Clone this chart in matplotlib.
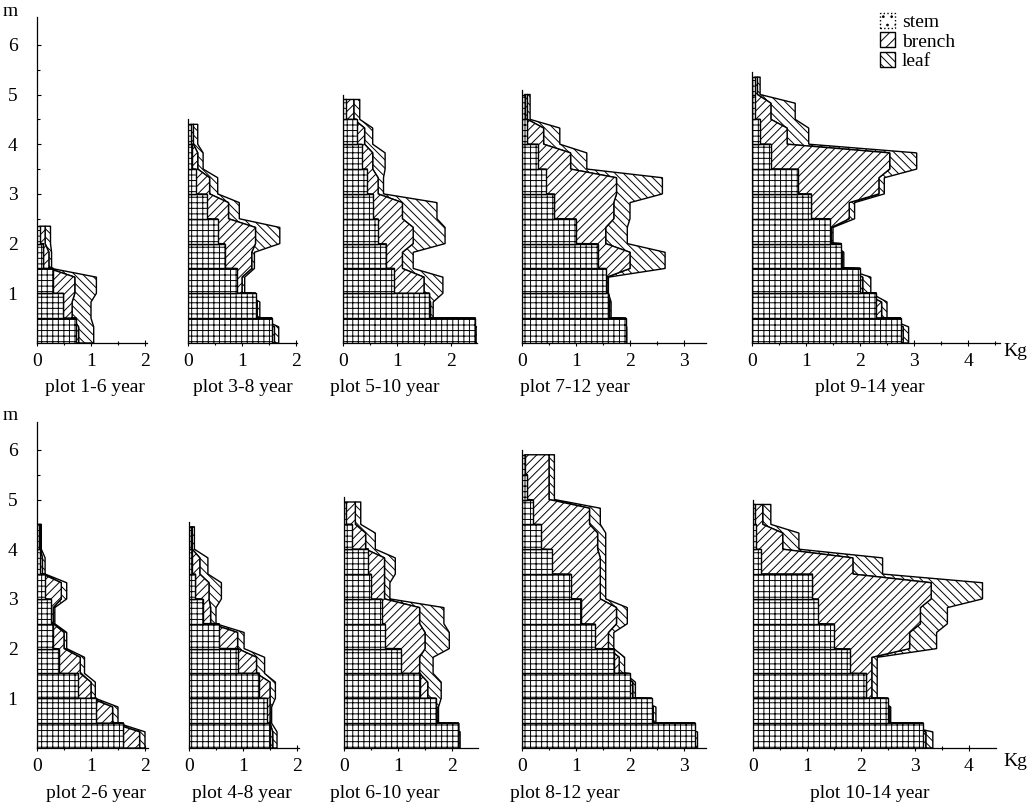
import numpy as np
import matplotlib
matplotlib.use("Agg")
import matplotlib.pyplot as plt
from matplotlib.patches import Patch

plt.rcParams['font.family'] = ['Liberation Serif', 'DejaVu Serif']
plt.rcParams['hatch.linewidth'] = 0.7

LAYER = 0.5  # m, thickness of each cut layer

# biomass per layer (kg), from ground upward
# top row
s_1_6 = [0.72, 0.49, 0.30, 0.12, 0.05]
b_1_6 = [0.05, 0.16, 0.40, 0.10, 0.10]
l_1_6 = [0.28, 0.35, 0.40, 0.05, 0.10]
top_1_6 = 2.35

s_3_8 = [1.55, 1.25, 0.90, 0.68, 0.55, 0.35, 0.15, 0.08, 0.05]
b_3_8 = [0.05, 0.03, 0.10, 0.50, 0.70, 0.40, 0.25, 0.10, 0.05]
l_3_8 = [0.08, 0.05, 0.05, 0.05, 0.45, 0.20, 0.15, 0.10, 0.08]
top_3_8 = 4.4

s_5_10 = [2.45, 1.60, 0.95, 0.80, 0.65, 0.55, 0.45, 0.35, 0.25, 0.05]
b_5_10 = [0.00, 0.02, 0.55, 0.30, 0.65, 0.55, 0.20, 0.20, 0.15, 0.15]
l_5_10 = [0.03, 0.05, 0.35, 0.20, 0.59, 0.64, 0.10, 0.23, 0.15, 0.11]
top_5_10 = 4.9

s_7_12 = [1.92, 1.60, 1.55, 1.40, 1.00, 0.60, 0.45, 0.30, 0.10, 0.05]
b_7_12 = [0.00, 0.02, 0.02, 0.60, 0.55, 1.10, 1.30, 0.60, 0.30, 0.05]
l_7_12 = [0.02, 0.03, 0.03, 0.65, 0.40, 0.30, 0.85, 0.30, 0.30, 0.05]
top_7_12 = 5.0

s_9_14 = [2.75, 2.30, 2.00, 1.65, 1.45, 1.10, 0.85, 0.35, 0.15, 0.05, 0.05]
b_9_14 = [0.05, 0.10, 0.05, 0.02, 0.02, 0.70, 1.50, 2.20, 0.50, 0.30, 0.05]
l_9_14 = [0.10, 0.10, 0.15, 0.03, 0.03, 0.10, 0.10, 0.50, 0.40, 0.45, 0.05]
top_9_14 = 5.35

# bottom row
s_2_6 = [1.60, 1.10, 0.75, 0.40, 0.30, 0.25, 0.15, 0.05, 0.03]
b_2_6 = [0.30, 0.30, 0.25, 0.40, 0.20, 0.05, 0.30, 0.05, 0.03]
l_2_6 = [0.10, 0.10, 0.08, 0.08, 0.05, 0.03, 0.10, 0.05, 0.02]
top_2_6 = 4.5

s_4_8 = [1.50, 1.45, 1.30, 0.90, 0.55, 0.25, 0.12, 0.05, 0.03]
b_4_8 = [0.05, 0.05, 0.20, 0.35, 0.35, 0.15, 0.25, 0.15, 0.03]
l_4_8 = [0.08, 0.03, 0.10, 0.15, 0.12, 0.10, 0.23, 0.15, 0.04]
top_4_8 = 4.45

s_6_10 = [2.12, 1.70, 1.40, 1.05, 0.75, 0.70, 0.50, 0.45, 0.15, 0.03]
b_6_10 = [0.00, 0.02, 0.15, 0.35, 0.75, 0.70, 0.25, 0.30, 0.25, 0.18]
l_6_10 = [0.03, 0.03, 0.25, 0.25, 0.45, 0.45, 0.10, 0.20, 0.18, 0.10]
top_6_10 = 4.95

s_8_12 = [3.20, 2.40, 2.00, 1.70, 1.35, 1.10, 0.90, 0.55, 0.35, 0.20, 0.10, 0.05]
b_8_12 = [0.00, 0.03, 0.05, 0.10, 0.25, 0.65, 0.55, 0.90, 1.05, 1.05, 0.40, 0.45]
l_8_12 = [0.05, 0.05, 0.05, 0.10, 0.10, 0.20, 0.10, 0.10, 0.15, 0.20, 0.10, 0.10]
top_8_12 = 5.9

s_10_14 = [3.15, 2.50, 2.10, 1.80, 1.50, 1.20, 1.10, 0.15, 0.05, 0.03]
b_10_14 = [0.05, 0.02, 0.10, 0.40, 1.40, 1.90, 2.20, 1.70, 0.50, 0.15]
l_10_14 = [0.13, 0.03, 0.10, 0.10, 0.50, 0.50, 0.95, 0.55, 0.30, 0.15]
top_10_14 = 4.9

W, H = 1035, 808
KX = 54.0   # px per kg
KY = 49.7   # px per m

# (title, data, zero x px, x max, label centre px)
top_row = [
    ('plot 1-6 year', (s_1_6, b_1_6, l_1_6, top_1_6), 37, 2.03, 95),
    ('plot 3-8 year', (s_3_8, b_3_8, l_3_8, top_3_8), 188, 2.02, 243),
    ('plot 5-10 year', (s_5_10, b_5_10, l_5_10, top_5_10), 343, 2.48, 385),
    ('plot 7-12 year', (s_7_12, b_7_12, l_7_12, top_7_12), 522, 3.4, 575),
    ('plot 9-14 year', (s_9_14, b_9_14, l_9_14, top_9_14), 752, 4.6, 870),
]
bottom_row = [
    ('plot 2-6 year', (s_2_6, b_2_6, l_2_6, top_2_6), 37, 2.05, 96),
    ('plot 4-8 year', (s_4_8, b_4_8, l_4_8, top_4_8), 189, 2.04, 242),
    ('plot 6-10 year', (s_6_10, b_6_10, l_6_10, top_6_10), 344, 2.48, 385),
    ('plot 8-12 year', (s_8_12, b_8_12, l_8_12, top_8_12), 522, 3.4, 565),
    ('plot 10-14 year', (s_10_14, b_10_14, l_10_14, top_10_14), 753, 4.5, 870),
]


def draw_profile(ax, stem, branch, leaf, top):
    n = len(stem)
    bot = np.arange(n) * LAYER
    hgt = np.append(np.diff(bot), top - bot[-1])
    c1 = np.array(stem)
    c2 = c1 + np.array(branch)
    c3 = c2 + np.array(leaf)
    yy = np.linspace(0, top, 900)
    idx = np.minimum((yy // LAYER).astype(int), n - 1)
    stem_x = c1[idx]
    # outer edges: vertical over the lower part of a layer, then slanted to the next one
    ky = np.append(np.ravel(np.column_stack([bot, bot + 0.65 * hgt])), top)

    def edge(c):
        return np.interp(yy, ky, np.append(np.repeat(c, 2), c[-1]))

    br_x = np.maximum(edge(c2), stem_x)
    lf_x = np.maximum(edge(c3), br_x)
    ax.fill_betweenx(yy, br_x, lf_x, facecolor='white', edgecolor='black',
                     hatch='\\\\\\\\', lw=1.0, zorder=2)
    ax.fill_betweenx(yy, stem_x, br_x, facecolor='white', edgecolor='black',
                     hatch='////', lw=1.0, zorder=3)
    ax.barh(bot, c1, height=hgt, align='edge', facecolor='white',
            edgecolor='black', hatch='+++', lw=1.0, zorder=4)


fig = plt.figure(figsize=(W / 100, H / 100), dpi=100)

for row, base in ((top_row, 343), (bottom_row, 748)):
    for i, (title, (s, b, l, top), x0, xmax, xc) in enumerate(row):
        ax = fig.add_axes([x0 / W, (H - base) / H, xmax * KX / W, 6.55 * KY / H])
        draw_profile(ax, s, b, l, top)
        ax.set_xlim(0, xmax)
        ax.set_ylim(0, 6.55)
        ax.spines['top'].set_visible(False)
        ax.spines['right'].set_visible(False)
        ax.spines['bottom'].set_linewidth(0.9)
        ax.spines['left'].set_linewidth(0.9)
        ax.set_xticks(np.arange(0, int(xmax) + 1))
        ax.set_xticks(np.arange(0.5, xmax, 1.0), minor=True)
        ax.tick_params(axis='x', which='major', direction='inout', length=5,
                       width=0.8, labelsize=14, pad=5)
        ax.tick_params(axis='x', which='minor', direction='inout', length=3, width=0.8)
        ax.patch.set_visible(False)
        if i == 0:
            ax.set_yticks(np.arange(1, 7))
            ax.set_yticks(np.arange(0.5, 6.5, 1.0), minor=True)
            ax.tick_params(axis='y', which='major', direction='in', length=3,
                           width=0.8, labelsize=14, pad=14)
            ax.tick_params(axis='y', which='minor', direction='in', length=2, width=0.8)
        else:
            ax.set_yticks([])
            ax.spines['left'].set_bounds(0, top + 0.1)
        fig.text(xc / W, 1 - (base + 45) / H, title, ha='center', va='center', fontsize=14)

fig.text(10 / W, 1 - 12 / H, 'm', ha='center', va='center', fontsize=14)
fig.text(10 / W, 1 - 415 / H, 'm', ha='center', va='center', fontsize=14)
fig.text(1003 / W, 1 - 352 / H, 'Kg', ha='left', va='center', fontsize=14)
fig.text(1003 / W, 1 - 762 / H, 'Kg', ha='left', va='center', fontsize=14)

handles = [
    Patch(facecolor='white', edgecolor='black', hatch='..', linestyle=':'),
    Patch(facecolor='white', edgecolor='black', hatch='///'),
    Patch(facecolor='white', edgecolor='black', hatch='\\\\\\\\'),
]
fig.legend(handles, ['stem', 'brench', 'leaf'], loc='upper left',
           bbox_to_anchor=(868 / W, 1 - 1 / H), frameon=False, fontsize=14,
           handlelength=0.8, handleheight=0.8, handletextpad=0.35,
           labelspacing=0.08, borderpad=0.1)

fig.savefig('out.png', dpi=100)
